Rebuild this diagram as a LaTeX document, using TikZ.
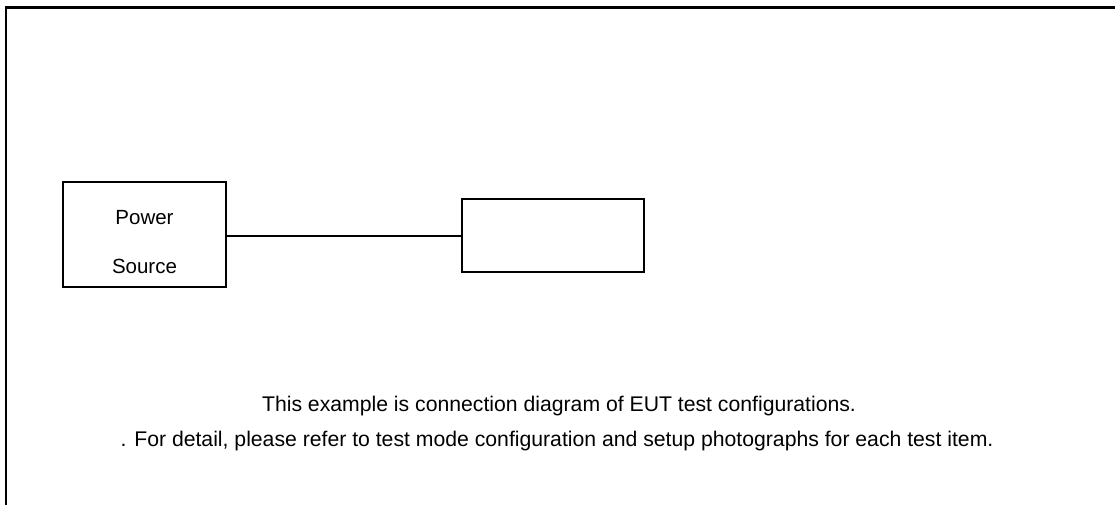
\documentclass[tikz,border=0pt]{standalone}
\usepackage{fontspec}
\setmainfont{Liberation Sans}
\begin{document}
\begin{tikzpicture}[x=1pt,y=-1pt,
  box/.style={draw,line width=1.3pt},
  txt/.style={font=\fontsize{21.2}{25}\selectfont,inner sep=0pt}]
\useasboundingbox (0,0) rectangle (1115,505);
\draw[line width=2.6pt] (6,505) -- (6,7.5) -- (1115,7.5);
\draw[box] (63,182) rectangle (226,287);
\node[txt,font=\fontsize{20.5}{24}\selectfont] (pw) at (144.5,218) {Power};
\node[txt,font=\fontsize{20.5}{24}\selectfont] (src) at (144.5,266) {Source};
\coordinate (psr) at (226,236);
\draw[box] (462,199) rectangle (644,272);
\coordinate (eutl) at (462,236);
\draw[line width=1.3pt] (psr) -- (eutl);
\node[txt] (t1) at (559,406) {This example is connection diagram of EUT test configurations.};
\node[txt] (t2) at (557,441) {. For detail, please refer to test mode configuration and setup photographs for each test item.};
\end{tikzpicture}
\end{document}
